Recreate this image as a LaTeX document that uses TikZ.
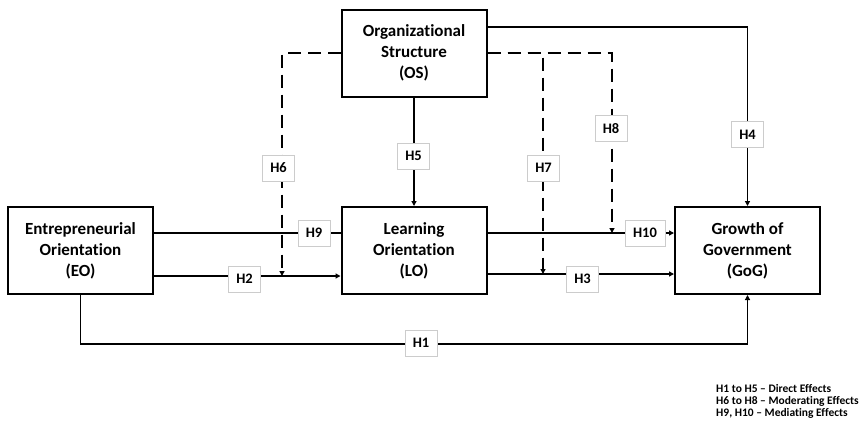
\documentclass[tikz,border=0pt]{standalone}
\usepackage{fontspec}
\setmainfont{Carlito}[Ligatures=NoCommon]
\usetikzlibrary{arrows.meta}

\begin{document}
\begin{tikzpicture}[x=1pt,y=-1pt,
    construct/.style={draw,line width=2pt,minimum width=145pt,minimum height=87pt,
      align=center,font=\fontsize{17}{21}\selectfont\bfseries},
    link/.style={line width=1.6pt,-{Triangle[width=5pt,length=5pt]}},
    plain/.style={line width=1.6pt},
    moder/.style={link,dash pattern=on 13pt off 7pt},
    hyp/.style={draw=gray!40,line width=0.6pt,fill=white,minimum width=32pt,
      minimum height=26pt,inner sep=2pt,font=\fontsize{14.5}{16}\selectfont\bfseries}]
  \useasboundingbox (0,0) rectangle (863,424);

  % constructs
  \node[construct] (EO) at (80.5,250.5) {Entrepreneurial\\Orientation\\(EO)};
  \node[construct] (OS) at (414,53) {Organizational\\Structure\\(OS)};
  \node[construct] (LO) at (414,250.5) {Learning\\Orientation\\(LO)};
  \node[construct] (GoG) at (747.5,250.5) {Growth of\\Government\\(GoG)};

  % moderated points
  \coordinate (m6) at (282,276);
  \coordinate (m7) at (543,274);
  \coordinate (m8) at (612,233);

  % direct and mediating paths
  \draw[plain] ([yshift=17.5pt]EO.east) -- ([yshift=17.5pt]LO.west);
  \draw[link] ([yshift=17.5pt]LO.east) -- ([yshift=17.5pt]GoG.west);
  \draw[link] ([yshift=-25.5pt]EO.east) -- ([yshift=-25.5pt]LO.west);
  \draw[link] ([yshift=-23.5pt]LO.east) -- ([yshift=-23.5pt]GoG.west);
  \draw[link] (EO.south) -- ++(0,49) -| (GoG.south);
  \draw[link] ([yshift=26pt]OS.east) -| (GoG.north);
  \draw[link] (OS.south) -- (LO.north);

  % moderating paths
  \draw[moder] (OS.west) -| (m6);
  \draw[moder] (OS.east) -| (m7);
  \draw[moder] (OS.east) -| (m8);

  % labels
  \node[hyp] (h1) at (421,343) {H1};
  \node[hyp] (h2) at (244.5,279) {H2};
  \node[hyp] (h3) at (582.5,279) {H3};
  \node[hyp] (h4) at (747.5,134.5) {H4};
  \node[hyp] (h5) at (413.5,156) {H5};
  \node[hyp] (h6) at (278.5,168) {H6};
  \node[hyp] (h7) at (543.5,168) {H7};
  \node[hyp] (h8) at (611,128.5) {H8};
  \node[hyp] (h9) at (314,233) {H9};
  \node[hyp,minimum width=40pt] (h10) at (645,233) {H10};

  % legend
  \node[anchor=north west,align=left,inner sep=0pt,
    font=\fontsize{11.5}{12}\selectfont\bfseries] (key) at (716,384)
    {H1 to H5 -- Direct Effects\\H6 to H8 -- Moderating Effects\\H9, H10 -- Mediating Effects};
\end{tikzpicture}
\end{document}
